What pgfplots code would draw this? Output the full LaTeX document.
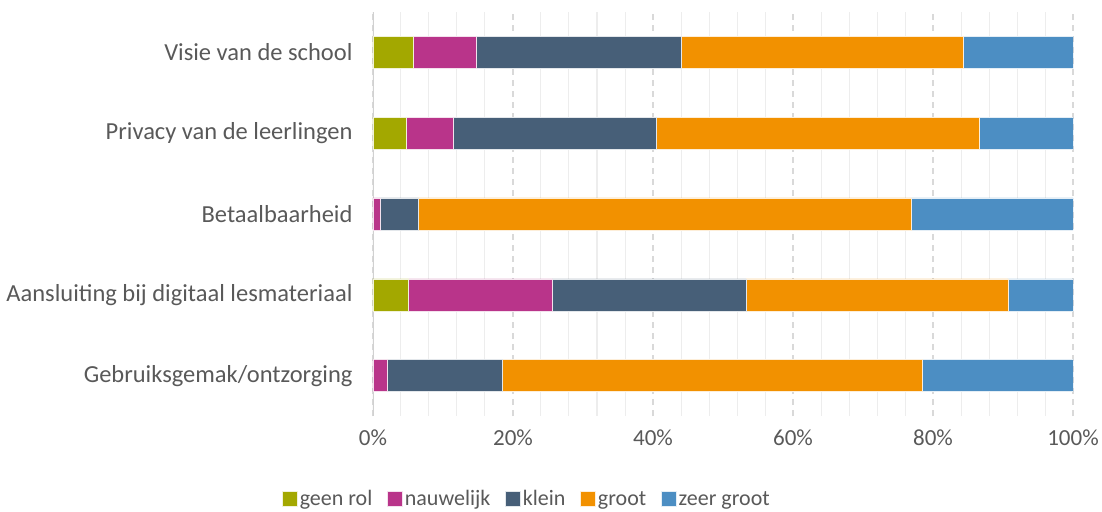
\documentclass[border=0pt]{standalone}
\usepackage{pgfplots}
\pgfplotsset{compat=1.18}
\usepackage{fontspec}
\setmainfont{Carlito}
\definecolor{cGeen}{HTML}{A3A800}
\definecolor{cNauw}{HTML}{B9348A}
\definecolor{cKlein}{HTML}{475F78}
\definecolor{cGroot}{HTML}{F29100}
\definecolor{cZeer}{HTML}{4C8EC3}
\definecolor{txt}{HTML}{595959}
\begin{document}
\begin{tikzpicture}[x=1pt,y=1pt]
\useasboundingbox (-373pt,-95pt) rectangle (729pt,416pt);
\begin{axis}[
  at={(0pt,0pt)}, anchor=south west,
  scale only axis, width=700pt, height=404pt,
  xbar stacked, bar width=32pt,
  xmin=0, xmax=100,
  ymin=-0.5, ymax=4.5,
  ytick={0,1,2,3,4},
  yticklabels={Gebruiksgemak/ontzorging,Aansluiting bij digitaal lesmateriaal,Betaalbaarheid,Privacy van de leerlingen,Visie van de school},
  xtick={0,20,40,60,80,100},
  xticklabel={\pgfmathprintnumber{\tick}\%},
  minor xtick={4,8,12,16,24,28,32,36,44,48,52,56,64,68,72,76,84,88,92,96},
  xmajorgrids, xminorgrids,
  major grid style={draw=black!15, line width=1.3pt, dash pattern=on 6pt off 5pt},
  minor grid style={draw=black!7, line width=1pt},
  axis line style={draw=none},
  axis x line*=bottom,
  axis y line*=left,
  major tick length=0pt, minor tick length=0pt,
  tick style={draw=none},
  yticklabel style={font=\fontsize{24.5}{28}\selectfont, text=txt, xshift=-17pt},
  xticklabel style={font=\fontsize{23}{27}\selectfont, text=txt, yshift=-10pt},
  /pgf/number format/assume math mode=true,
  legend style={at={(0.22,-0.205)}, anchor=center, draw=none, legend columns=-1,
    font=\fontsize{22}{26}\selectfont, text=txt,
    /tikz/every even column/.append style={column sep=13pt}},
  legend image code/.code={\fill[#1] (0pt,-7pt) rectangle (15pt,8pt);},
  axis on top=false,
]
\addplot[fill=cGeen, draw=white!85!cGeen, line width=0.5pt] coordinates {(0,0) (5.1,1) (0,2) (4.7,3) (5.7,4)};
\addplot[fill=cNauw, draw=white!85!cNauw, line width=0.5pt] coordinates {(2.0,0) (20.5,1) (1.0,2) (6.7,3) (9.0,4)};
\addplot[fill=cKlein, draw=white!85!cKlein, line width=0.5pt] coordinates {(16.5,0) (27.7,1) (5.5,2) (29.0,3) (29.3,4)};
\addplot[fill=cGroot, draw=white!85!cGroot, line width=0.5pt] coordinates {(59.9,0) (37.4,1) (70.4,2) (46.2,3) (40.3,4)};
\addplot[fill=cZeer, draw=white!85!cZeer, line width=0.5pt] coordinates {(21.6,0) (9.3,1) (23.1,2) (13.4,3) (15.7,4)};
\legend{geen rol,nauwelijk,klein,groot,zeer groot}
\draw[black!18, line width=1.5pt] (axis cs:0,-0.5) -- (axis cs:0,4.5);
\end{axis}
\end{tikzpicture}
\end{document}
